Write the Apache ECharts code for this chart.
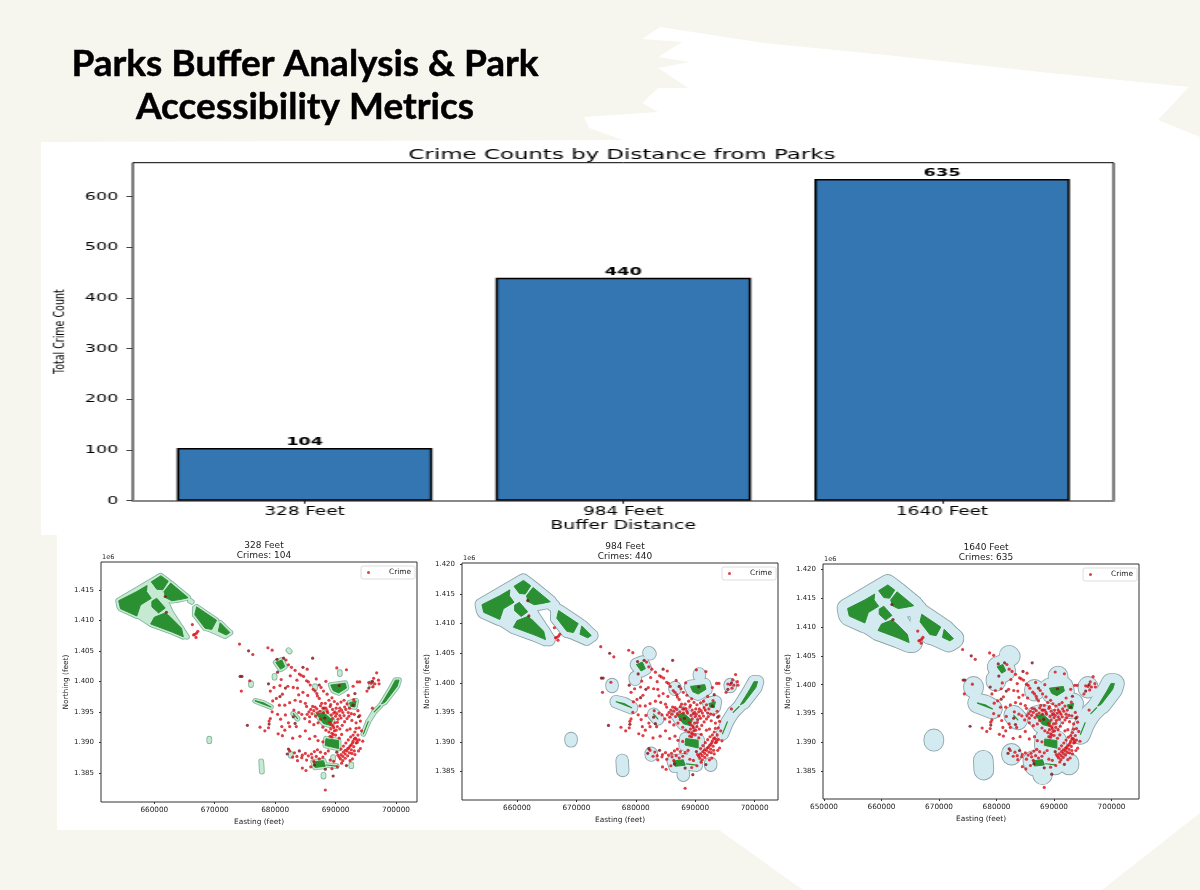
<!DOCTYPE html>
<html>
<head>
<meta charset="utf-8">
<title>Parks Buffer Analysis</title>
<script src="https://cdn.jsdelivr.net/npm/echarts@6/dist/echarts.min.js"></script>
<style>
  html, body { margin: 0; padding: 0; background: #f6f5ee; }
  #page { position: absolute; left: 0; top: 0; width: 1200px; height: 890px; }
  /* The bar panel is drawn narrow and widened, which gives its wide lettering. */
  #bars { position: absolute; left: 0; top: 0; height: 890px; transform-origin: 0 0; }
</style>
</head>
<body>
<div id="page"></div>
<div id="bars"></div>
<script>
const HEADLINE = 'Parks Buffer Analysis & Park\nAccessibility Metrics';

// Bar panel
const bufferLabels = ['328 Feet', '984 Feet', '1640 Feet'];
const crimeCounts = [104, 440, 635];
const countTicks = [0, 100, 200, 300, 400, 500, 600];

// Buffer distance for each map, in feet
const bufferFeet = [328, 984, 1640];

// Map coordinates below are in thousands of feet (easting, northing)
const parkAreas = [
  [[654.1,1413.2],[657.1,1414.7],[658.8,1415.7],[658.7,1414.7],[659.5,1413.6],[657.7,1412.5],[657.1,1410.7],[654.4,1411.9]],
  [[659.5,1416.3],[661.1,1417.3],[662.3,1416.4],[661.4,1415.0],[660.4,1415.1]],
  [[661.6,1414.7],[662.7,1416.1],[665.6,1413.7],[664.2,1413.4],[662.9,1413.2],[661.9,1413.7]],
  [[659.6,1413.1],[660.4,1413.6],[661.8,1412.0],[660.7,1411.2],[659.6,1412.2]],
  [[660.0,1410.5],[661.8,1411.2],[662.6,1410.6],[664.5,1408.7],[664.8,1407.3],[662.9,1408.1],[659.4,1409.4]],
  [[667.0,1412.2],[670.3,1410.0],[669.5,1408.5],[668.4,1408.7],[666.7,1410.9]],
  [[670.9,1409.6],[672.5,1408.0],[671.9,1407.6],[670.6,1408.2]],
  [[680.1,1403.1],[681.1,1403.5],[681.6,1402.4],[680.9,1402.0]],
  [[686.3,1386.8],[688.0,1387.0],[688.3,1386.1],[686.6,1385.9]],
  [[688.4,1390.6],[690.5,1390.3],[690.5,1389.0],[688.3,1389.5]],
  [[686.9,1394.6],[688.0,1394.9],[689.5,1393.6],[689.1,1392.8],[688.0,1393.1]],
  [[689.2,1399.4],[691.6,1399.7],[691.8,1398.9],[690.5,1398.1],[689.6,1398.5]],
  [[692.3,1396.5],[693.4,1396.8],[693.2,1395.8],[692.5,1395.9]],
  [[700.5,1400.2],[700.2,1399.2],[698.2,1396.6],[697.6,1396.3],[699.2,1398.9],[699.9,1400.2]]
];
const parkStrips = [
  [[676.7,1396.8],[678.0,1396.5],[679.3,1395.8]],
  [[683.0,1394.7],[683.7,1393.9]],
  [[688.5,1386.3],[690.2,1386.1]],
  [[697.4,1396.0],[696.4,1395.0]],
  [[695.4,1393.4],[694.6,1391.4]]
];
const parkSites = [
  [[654.0,1413.2],[661.0,1417.3],[665.6,1413.7],[661.9,1413.2],[662.7,1411.4],[665.4,1407.3],[659.4,1409.4],[657.4,1410.7],[654.2,1412.2]],
  [[666.7,1412.0],[672.6,1408.0],[671.7,1407.4],[669.2,1408.5],[666.7,1410.9]],
  [[665.9,1413.2],[666.2,1413.0]],
  [[682.2,1405.1],[682.4,1404.9]],
  [[679.9,1400.9],[679.9,1400.6]],
  [[676.0,1399.7],[676.0,1399.4]],
  [[669.1,1390.6],[669.1,1390.2]],
  [[677.7,1386.9],[677.8,1385.2]],
  [[682.6,1388.1],[682.6,1387.8]],
  [[688.0,1384.7],[688.0,1384.4]],
  [[689.6,1387.6],[689.6,1387.3]],
  [[692.6,1386.4],[692.6,1386.1]],
  [[690.7,1401.5],[690.7,1401.2]],
  [[695.9,1399.7],[695.9,1399.4]],
  [[686.6,1399.2],[686.6,1398.9]],
  [[696.4,1395.0],[695.4,1393.4]]
];

const crimePoints = [
  [666.3,1409.3],[666.7,1407.7],[667.0,1407.9],[666.9,1407.2],[666.5,1407.6],[667.2,1408.2],
  [674.1,1406.1],[676.3,1404.4],[678.8,1405.5],[679.5,1405.1],[674.4,1398.4],[675.8,1400.1],
  [681.8,1403.5],[682.2,1402.7],[682.7,1402.3],[683.3,1401.8],[684.0,1401.2],[684.7,1400.8],
  [685.2,1400.1],[685.8,1399.4],[686.3,1398.7],[686.9,1398.0],[687.3,1397.2],[687.7,1396.4],
  [688.1,1395.6],[684.3,1401.0],[685.5,1399.9],[686.6,1398.4],[687.0,1397.6],
  [681.0,1400.3],[682.5,1400.9],[683.6,1400.2],[680.8,1399.3],[679.8,1399.0],[679.2,1398.4],
  [682.1,1399.2],[683.0,1399.0],[683.7,1398.9],[681.2,1397.9],[680.2,1397.2],[679.6,1396.8],
  [683.3,1396.9],[684.2,1396.7],[685.0,1396.4],[682.4,1396.5],[681.6,1396.1],[680.7,1396.1],
  [679.5,1395.0],[679.2,1393.9],[679.0,1393.5],[681.7,1394.5],[682.2,1393.2],[681.1,1392.6],
  [681.6,1392.0],[682.4,1392.6],[683.5,1392.6],[681.2,1391.1],[684.1,1391.0],[685.7,1390.6],
  [687.1,1390.3],[684.6,1398.2],[685.4,1397.7],[683.9,1397.8],[680.4,1394.6],[680.9,1393.8],
  [685.2,1395.9],[685.9,1395.4],[686.4,1395.2],[686.9,1395.5],[687.4,1395.1],[688.0,1394.9],
  [686.1,1394.7],[685.6,1395.0],[685.3,1394.6],[686.7,1394.3],[687.5,1396.0],[688.3,1396.4],
  [688.9,1396.9],[689.4,1397.3],[689.1,1395.9],[689.5,1395.4],[689.7,1394.8],[690.0,1394.3],
  [690.4,1393.8],[690.1,1395.6],[690.6,1395.1],[691.2,1394.9],[691.7,1395.4],[690.3,1396.3],
  [690.9,1396.6],[691.4,1396.9],[691.9,1396.3],[692.3,1395.6],[689.9,1393.2],[689.6,1392.7],
  [689.2,1392.2],[688.9,1391.7],[689.4,1391.5],[689.8,1391.9],[690.3,1392.6],[690.7,1392.2],
  [691.1,1392.8],[691.5,1393.4],[691.9,1393.9],[692.2,1394.3],[692.7,1393.6],[693.1,1394.6],
  [693.4,1393.2],[693.7,1395.2],[690.0,1391.2],[689.4,1390.9],[690.6,1390.7],[691.0,1391.3],
  [687.5,1393.8],[687.1,1393.2],[687.9,1392.5],[688.4,1392.0],[686.4,1392.9],[685.7,1393.4],
  [684.9,1393.9],[684.4,1394.6],[683.9,1394.9],[683.1,1395.3],[688.6,1397.9],[688.0,1398.4],
  [687.6,1399.0],[689.2,1396.2],[689.8,1396.7],[688.6,1395.2],[690.9,1394.0],[691.4,1394.4],
  [689.3,1394.5],[689.9,1395.0],[690.2,1394.7],[690.7,1394.4],[689.5,1393.9],[689.0,1393.3],
  [689.3,1392.9],[689.7,1392.4],[690.1,1392.0],[689.6,1391.3],[689.1,1391.0],[690.3,1393.3],
  [688.7,1394.9],[688.4,1395.6],[687.9,1395.6],[686.6,1395.8],[686.2,1395.9],[685.7,1394.2],
  [687.0,1394.8],[690.7,1395.6],[691.0,1395.3],[691.5,1395.8],[692.1,1394.9],[692.6,1394.7],
  [693.4,1392.3],[693.2,1391.7],[693.7,1391.2],[693.3,1390.7],[693.9,1390.4],[692.9,1390.2],
  [693.4,1389.9],[692.6,1389.6],[693.0,1389.3],[692.2,1389.1],[692.6,1388.8],[691.9,1388.6],
  [692.3,1388.3],[691.6,1388.1],[692.0,1387.8],[691.2,1387.7],[691.6,1387.4],[690.8,1387.3],
  [691.2,1387.0],[690.4,1387.9],[690.9,1388.9],[691.3,1389.4],[691.7,1389.9],[692.1,1390.4],
  [692.5,1390.9],[692.9,1391.2],[691.0,1386.6],[693.2,1388.0],[692.8,1387.3],[692.4,1387.0],
  [694.1,1389.0],[693.8,1388.6],[693.9,1392.4],[692.4,1392.2],[691.9,1392.0],
  [692.8,1389.9],[692.4,1389.4],[692.0,1389.0],[691.6,1388.7],[691.3,1388.4],[690.9,1388.0],
  [690.6,1387.6],[693.1,1390.6],[693.6,1390.0],[693.5,1390.4],[693.1,1388.6],[692.7,1388.2],
  [684.5,1387.9],[685.0,1388.2],[685.5,1387.8],[686.0,1388.1],[686.5,1388.5],[687.0,1388.8],
  [687.5,1388.4],[686.1,1387.5],[686.8,1387.7],[687.3,1387.3],[687.9,1387.6],[688.3,1388.2],
  [688.8,1388.6],[685.2,1387.1],[684.4,1387.5],[683.7,1387.0],[686.4,1386.9],[689.1,1387.1],
  [689.7,1386.9],[685.9,1386.0],[684.5,1385.8],[685.1,1385.4],[689.4,1385.7],[690.3,1386.0],
  [688.3,1382.2],[682.4,1388.6],[683.2,1388.3],[682.9,1387.6],[683.6,1387.7],
  [694.0,1394.4],[694.1,1393.5],[693.0,1397.0],[692.1,1397.7],[693.6,1399.9],[694.0,1399.9],
  [692.9,1399.2],[691.8,1401.9],[690.2,1402.2],[688.4,1400.0],[685.3,1402.0],[686.8,1400.4],
  [696.8,1401.4],[696.3,1400.5],[695.5,1399.8],[695.9,1399.7],[696.2,1399.1],[695.2,1398.4],
  [697.1,1400.2],[697.2,1399.6],[696.5,1399.6],[696.1,1395.6],
  [677.5,1392.5],[678.3,1391.9],[678.9,1392.4],[680.5,1391.4],[682.9,1390.7],[685.0,1391.9],
  [686.6,1391.0],[694.3,1391.9],[694.5,1390.2],[687.9,1390.1]
];
const crimePointsDark = [
  [662.0,1411.3],[661.8,1413.9],[674.2,1400.8],[674.5,1400.8],[675.4,1392.8],[675.6,1405.0],
  [680.3,1403.6],[681.4,1403.8],[686.2,1403.8],[684.6,1402.3],[681.7,1398.9],[680.8,1397.5],
  [679.0,1393.0],[683.0,1394.2],[683.3,1393.1],[688.2,1394.0],[689.6,1384.5],[686.5,1386.3],
  [688.3,1385.6],[682.2,1388.9],[682.0,1388.1],[684.0,1388.6],[691.8,1386.2],[693.2,1398.0],
  [692.9,1396.1],[696.1,1400.0],[695.5,1398.9],[690.6,1399.3],[687.3,1399.4],[680.4,1401.5],
  [690.2,1388.4],[693.8,1394.2],[678.9,1399.6]
];

// One entry per map panel: caption, axis range in feet, position and ticks
const mapTitles = ['328 Feet\nCrimes: 104', '984 Feet\nCrimes: 440', '1640 Feet\nCrimes: 635'];
const mapXRanges = [[651175, 703477], [650741, 703939], [649826, 704774]];
const mapYRanges = [[1380238, 1419548], [1380215, 1420237], [1380191, 1420920]];
const mapBoxes = [[101, 562, 316, 240], [462, 563, 316, 237], [823, 564, 316, 235]];
const mapEastingTicks = [
  [660000, 670000, 680000, 690000, 700000],
  [660000, 670000, 680000, 690000, 700000],
  [650000, 660000, 670000, 680000, 690000, 700000]
];
const mapNorthingTicks = [
  [1385000, 1390000, 1395000, 1400000, 1405000, 1410000, 1415000],
  [1385000, 1390000, 1395000, 1400000, 1405000, 1410000, 1415000, 1420000],
  [1385000, 1390000, 1395000, 1400000, 1405000, 1410000, 1415000, 1420000]
];
const bufferFill = ['#c6e9d2', '#d4eaf1', '#d4eaf1'];
const bufferEdge = ['#86b8a2', '#8fa6ab', '#8fa6ab'];

const MAP_FONT = '"DejaVu Sans", sans-serif';
const toFeet = pts => pts.map(p => [p[0] * 1000, p[1] * 1000]);
const parkLayers = {
  areas: parkAreas.map(toFeet),
  strips: parkStrips.map(toFeet),
  sites: parkSites.map(toFeet)
};
const allParks = parkLayers.areas.concat(parkLayers.strips, parkLayers.sites);

function screenPoints(api, shape) {
  return shape.map(p => api.coord(p));
}

// Every park outline is stroked at the buffer width, so the buffers merge as a union.
function bufferSeries(m, grow, color, z) {
  return {
    type: 'custom', name: 'buffer', xAxisIndex: m, yAxisIndex: m, z, silent: true, clip: true,
    data: allParks.map(shape => shape[0]),
    renderItem(params, api) {
      const radius = api.size([bufferFeet[m], 0])[0] + grow;
      return {
        type: 'polygon',
        shape: { points: screenPoints(api, allParks[params.dataIndex]) },
        style: { fill: color, stroke: color, lineWidth: radius * 2, lineJoin: 'round', lineCap: 'round' }
      };
    }
  };
}

function parkSeries(m, shapes, strokeWidth, z) {
  return {
    type: 'custom', name: 'park', xAxisIndex: m, yAxisIndex: m, z, silent: true, clip: true,
    data: shapes.map(shape => shape[0]),
    renderItem(params, api) {
      return {
        type: 'polygon',
        shape: { points: screenPoints(api, shapes[params.dataIndex]) },
        style: { fill: '#2a9032', stroke: '#2a9032', lineWidth: strokeWidth, lineJoin: 'round' }
      };
    }
  };
}

const mapGrids = [], mapX = [], mapY = [], mapSeries = [], mapCaptions = [], mapLegends = [], offsetMarks = [];
mapBoxes.forEach((box, m) => {
  mapGrids.push({
    left: box[0], top: box[1], width: box[2], height: box[3], show: true,
    backgroundColor: '#fff', borderColor: '#333', borderWidth: 1
  });
  mapX.push({
    type: 'value', gridIndex: m, min: mapXRanges[m][0], max: mapXRanges[m][1],
    name: 'Easting (feet)', nameLocation: 'middle', nameGap: 17,
    nameTextStyle: { fontFamily: MAP_FONT, fontSize: 7.4, color: '#222' },
    axisLine: { show: false, onZero: false }, splitLine: { show: false },
    axisTick: { show: true, length: 2, customValues: mapEastingTicks[m], lineStyle: { color: '#333' } },
    axisLabel: {
      customValues: mapEastingTicks[m], formatter: v => String(v), margin: 5,
      fontFamily: MAP_FONT, fontSize: 7.3, color: '#222', showMinLabel: true, showMaxLabel: true
    }
  });
  mapY.push({
    type: 'value', gridIndex: m, min: mapYRanges[m][0], max: mapYRanges[m][1],
    name: 'Northing (feet)', nameLocation: 'middle', nameGap: 29,
    nameTextStyle: { fontFamily: MAP_FONT, fontSize: 7.4, color: '#222' },
    axisLine: { show: false, onZero: false }, splitLine: { show: false },
    axisTick: { show: true, length: 2, customValues: mapNorthingTicks[m], lineStyle: { color: '#333' } },
    axisLabel: {
      customValues: mapNorthingTicks[m], formatter: v => (v / 1e6).toFixed(3), margin: 7,
      fontFamily: MAP_FONT, fontSize: 7, color: '#222'
    }
  });
  mapCaptions.push({
    text: mapTitles[m], left: box[0] + box[2] / 2, top: box[1] - 26, textAlign: 'center',
    textStyle: { fontFamily: MAP_FONT, fontSize: 9, fontWeight: 'normal', color: '#222', lineHeight: 10 }
  });
  mapLegends.push({
    data: ['Crime'], left: box[0] + box[2] - 56, top: box[1] + 4, orient: 'horizontal',
    padding: [3, 4, 3, 6], selectedMode: false, backgroundColor: '#fff',
    borderColor: '#ddd', borderWidth: 1, borderRadius: 2,
    icon: 'circle', itemWidth: 3, itemHeight: 3, itemGap: 0,
    formatter: '      Crime',
    textStyle: { fontFamily: MAP_FONT, fontSize: 7.4, color: '#222' }
  });
  // Offset marker above the northing axis
  offsetMarks.push({
    type: 'text', silent: true, x: box[0] + 1, y: box[1] - 8,
    style: { text: '1e6', fontFamily: MAP_FONT, fontSize: 6.5, fill: '#222' }
  });
  mapSeries.push(
    bufferSeries(m, 0.9, bufferEdge[m], 1),
    bufferSeries(m, 0, bufferFill[m], 2),
    parkSeries(m, parkLayers.areas, 1, 3),
    parkSeries(m, parkLayers.strips, 1.2, 3),
    {
      type: 'scatter', name: 'Crime', xAxisIndex: m, yAxisIndex: m, z: 4, symbolSize: 3.2, silent: true,
      data: toFeet(crimePoints), itemStyle: { color: '#d80e16' }
    },
    {
      type: 'scatter', name: 'Crime', xAxisIndex: m, yAxisIndex: m, z: 4, symbolSize: 3.2, silent: true,
      data: toFeet(crimePointsDark), itemStyle: { color: '#7c1016' }
    }
  );
});

const page = echarts.init(document.getElementById('page'), null, { width: 1200, height: 890 });
page.setOption({
  animation: false,
  backgroundColor: '#f6f5ee',
  title: [{
    text: HEADLINE, left: 300, top: 38, textAlign: 'center',
    textStyle: {
      fontFamily: 'Lato, sans-serif', fontSize: 37, fontWeight: 'bold', color: '#000',
      lineHeight: 43, textBorderColor: '#000', textBorderWidth: 0.5
    }
  }].concat(mapCaptions),
  graphic: [
    // Painted white brush stroke behind the panels
    { type: 'polygon', z: -10, silent: true, style: { fill: '#fff' }, shape: { points: [
      [660,27],[764,43],[886,55],[1050,73],[1189,87],[1158,120],[1200,137],[1200,813],[1102,890],[803,890],[719,830],
      [57,830],[57,535],[41,535],[41,142],[623,140],[589,128],[584,117],[658,112],[642,103],[658,88],[688,88],
      [658,68],[690,62],[658,57],[682,42],[642,39]
    ] } }
  ].concat(offsetMarks),
  grid: mapGrids,
  xAxis: mapX,
  yAxis: mapY,
  legend: mapLegends,
  series: mapSeries
});

// Bar panel: a value x axis places the bars at 0, 1, 2 inside wider margins
const STRETCH = 1.6;
const barsEl = document.getElementById('bars');
barsEl.style.width = (1200 / STRETCH) + 'px';
barsEl.style.transform = 'scaleX(' + STRETCH + ')';
const bars = echarts.init(barsEl, null, { width: 1200 / STRETCH, height: 890 });
const BAR_FONT = '"DejaVu Sans", sans-serif';
bars.setOption({
  animation: false,
  backgroundColor: 'transparent',
  title: {
    text: 'Crime Counts by Distance from Parks', left: 614 / STRETCH, top: 143, textAlign: 'center',
    textStyle: { fontFamily: BAR_FONT, fontSize: 14.3, fontWeight: 'normal', color: '#000' }
  },
  grid: {
    left: 83, top: 162.7, width: 613, height: 338, show: true,
    borderColor: '#000', borderWidth: 1, backgroundColor: '#fff'
  },
  xAxis: {
    type: 'value', min: -0.539, max: 2.538,
    name: 'Buffer Distance', nameLocation: 'middle', nameGap: 19,
    nameTextStyle: { fontFamily: BAR_FONT, fontSize: 11.8, color: '#000' },
    axisLine: { show: true, onZero: false, lineStyle: { color: '#888', width: 2 } },
    splitLine: { show: false },
    axisTick: { show: true, length: 3, customValues: [0, 1, 2], lineStyle: { color: '#222' } },
    axisLabel: {
      customValues: [0, 1, 2], formatter: v => bufferLabels[v], margin: 5,
      fontFamily: BAR_FONT, fontSize: 11.5, color: '#000'
    }
  },
  yAxis: {
    type: 'value', min: 0, max: 667,
    name: 'Total Crime Count', nameLocation: 'middle', nameGap: 39,
    nameTextStyle: { fontFamily: BAR_FONT, fontSize: 9.5, color: '#000' },
    axisLine: { show: false, onZero: false }, splitLine: { show: false },
    axisTick: { show: true, length: 4, customValues: countTicks, lineStyle: { color: '#444' } },
    axisLabel: {
      customValues: countTicks, formatter: v => String(v), margin: 9,
      fontFamily: BAR_FONT, fontSize: 11, color: '#000'
    }
  },
  series: [{
    type: 'bar', barWidth: 255.5 / STRETCH,
    data: crimeCounts.map((v, i) => [i, v]),
    itemStyle: { color: '#3476b2', borderColor: '#000', borderWidth: 1.5 },
    label: {
      show: true, position: 'top', distance: 0, formatter: p => String(p.value[1]),
      fontFamily: BAR_FONT, fontSize: 11, fontWeight: 'bold', color: '#000'
    }
  }]
});
</script>
</body>
</html>
